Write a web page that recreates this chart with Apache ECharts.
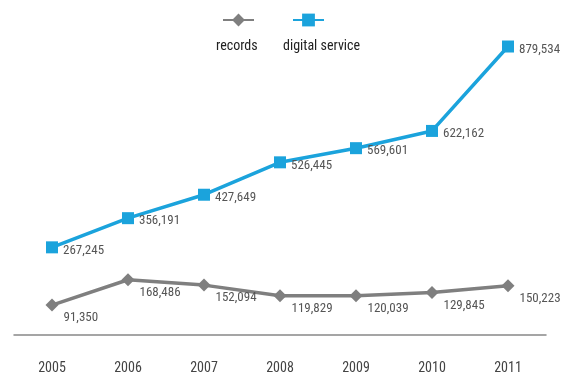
<!DOCTYPE html>
<html><head><meta charset="utf-8">
<script src="https://cdn.jsdelivr.net/npm/echarts@6/dist/echarts.min.js"></script>
<style>html,body{margin:0;padding:0;background:#fff}#c{width:563px;height:379px}</style>
</head><body><div id="c"></div>
<script>
const years = ['2005','2006','2007','2008','2009','2010','2011'];
const records = [91350,168486,152094,119829,120039,129845,150223];
const digital = [267245,356191,427649,526445,569601,622162,879534];
const seriesNames = ['records','digital service'];

const FONT = '"Roboto Condensed","Open Sans Condensed",sans-serif';
const fmt = v => v.toLocaleString('en-US');
const chart = echarts.init(document.getElementById('c'));
chart.setOption({
  animation:false,
  backgroundColor:'#fff',
  grid:{left:14,right:17,top:7,bottom:44},
  legend:[
    {data:[seriesNames[0]],left:217,top:7,itemWidth:31,itemHeight:16,formatter:()=>'',selectedMode:false},
    {data:[seriesNames[1]],left:287,top:7,itemWidth:31,itemHeight:16,formatter:()=>'',selectedMode:false}
  ],
  graphic:[
    {type:'text',left:216,top:39,style:{text:seriesNames[0],font:'14px '+FONT,fill:'#222'}},
    {type:'text',left:283,top:39,style:{text:seriesNames[1],font:'14px '+FONT,fill:'#222'}}
  ],
  xAxis:{type:'category',data:years,boundaryGap:true,
    axisLine:{lineStyle:{color:'#888',width:1.5}},axisTick:{show:false},
    axisLabel:{color:'#444',fontSize:14,fontFamily:FONT,margin:26}},
  yAxis:{type:'value',min:0,max:1000000,show:false,splitLine:{show:false}},
  series:[
    {name:seriesNames[0],type:'line',data:records,symbol:'diamond',symbolSize:13,
      lineStyle:{color:'#7f7f7f',width:3.5},itemStyle:{color:'#7f7f7f'},
      label:{show:true,position:'right',offset:[0,13],color:'#555',fontSize:13,fontFamily:FONT,formatter:p=>fmt(p.value)}},
    {name:seriesNames[1],type:'line',data:digital,symbol:'rect',symbolSize:12,
      lineStyle:{color:'#1ba3dc',width:3.5},itemStyle:{color:'#1ba3dc'},
      label:{show:true,position:'right',offset:[0,3],color:'#555',fontSize:13,fontFamily:FONT,formatter:p=>fmt(p.value)}}
  ]
});
</script></body></html>
